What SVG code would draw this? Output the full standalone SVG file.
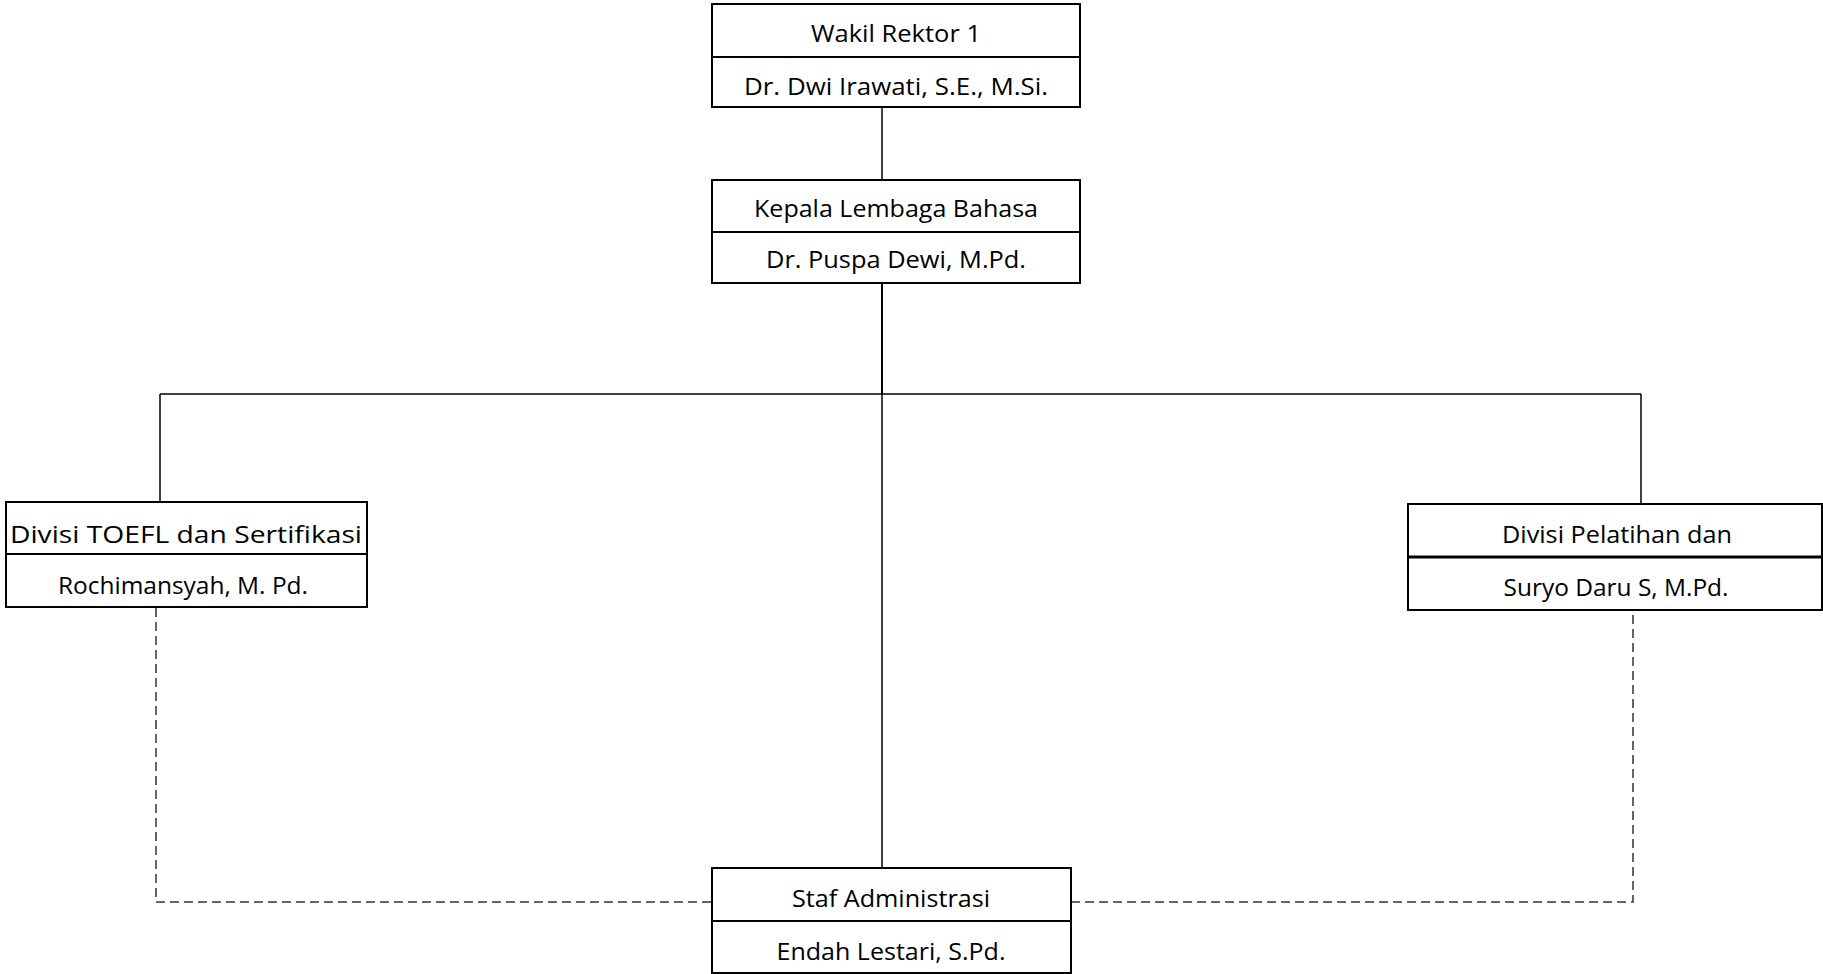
<svg xmlns="http://www.w3.org/2000/svg" width="1823" height="974" viewBox="0 0 1823 974">
<style>
.box{fill:#fff;stroke:#000;stroke-width:2}
.div{stroke:#000;stroke-width:2}
.t{font-family:"Open Sans","Noto Sans",sans-serif;font-size:23px;fill:#000;text-anchor:middle}
.solid{stroke:#000;stroke-width:1.5;fill:none}
.dash{stroke:#333;stroke-width:1.5;fill:none;stroke-dasharray:9 5}
</style>
<rect width="1823" height="974" fill="#fff"/>
<g id="connectors">
<line class="solid" x1="882" y1="107" x2="882" y2="180"/>
<line class="solid" x1="882" y1="283" x2="882" y2="394" style="stroke-width:2"/>
<line class="solid" x1="160" y1="394" x2="1641" y2="394"/>
<line class="solid" x1="160" y1="394" x2="160" y2="502"/>
<line class="solid" x1="1641" y1="394" x2="1641" y2="504"/>
<line class="solid" x1="882" y1="394" x2="882" y2="868"/>
<polyline class="dash" points="156,608 156,902 712,902"/>
<polyline class="dash" points="1071,902 1633,902 1633,611"/>
</g>
<g id="wakil-rektor">
<rect class="box" x="712" y="4" width="368" height="103"/>
<line class="div" x1="712" y1="57" x2="1080" y2="57"/>
<text class="t" x="896" y="42" textLength="170" lengthAdjust="spacingAndGlyphs">Wakil Rektor 1</text>
<text class="t" x="896" y="95" textLength="304" lengthAdjust="spacingAndGlyphs">Dr. Dwi Irawati, S.E., M.Si.</text>
</g>
<g id="kepala-lembaga">
<rect class="box" x="712" y="180" width="368" height="103"/>
<line class="div" x1="712" y1="232" x2="1080" y2="232"/>
<text class="t" x="896" y="217" textLength="284" lengthAdjust="spacingAndGlyphs">Kepala Lembaga Bahasa</text>
<text class="t" x="896" y="268" textLength="260" lengthAdjust="spacingAndGlyphs">Dr. Puspa Dewi, M.Pd.</text>
</g>
<g id="divisi-toefl">
<rect class="box" x="6" y="502" width="361" height="105"/>
<line class="div" x1="6" y1="554" x2="367" y2="554"/>
<text class="t" x="186" y="543" textLength="352" lengthAdjust="spacingAndGlyphs">Divisi TOEFL dan Sertifikasi</text>
<text class="t" x="183" y="594" textLength="250" lengthAdjust="spacingAndGlyphs">Rochimansyah, M. Pd.</text>
</g>
<g id="divisi-pelatihan">
<rect class="box" x="1408" y="504" width="414" height="106"/>
<line class="div" x1="1408" y1="557" x2="1822" y2="557" style="stroke-width:3"/>
<text class="t" x="1617" y="543" textLength="230" lengthAdjust="spacingAndGlyphs">Divisi Pelatihan dan</text>
<text class="t" x="1616" y="596" textLength="225" lengthAdjust="spacingAndGlyphs">Suryo Daru S, M.Pd.</text>
</g>
<g id="staf-administrasi">
<rect class="box" x="712" y="868" width="359" height="105"/>
<line class="div" x1="712" y1="921" x2="1071" y2="921"/>
<text class="t" x="891" y="907" textLength="198" lengthAdjust="spacingAndGlyphs">Staf Administrasi</text>
<text class="t" x="891" y="960" textLength="229" lengthAdjust="spacingAndGlyphs">Endah Lestari, S.Pd.</text>
</g>
</svg>
